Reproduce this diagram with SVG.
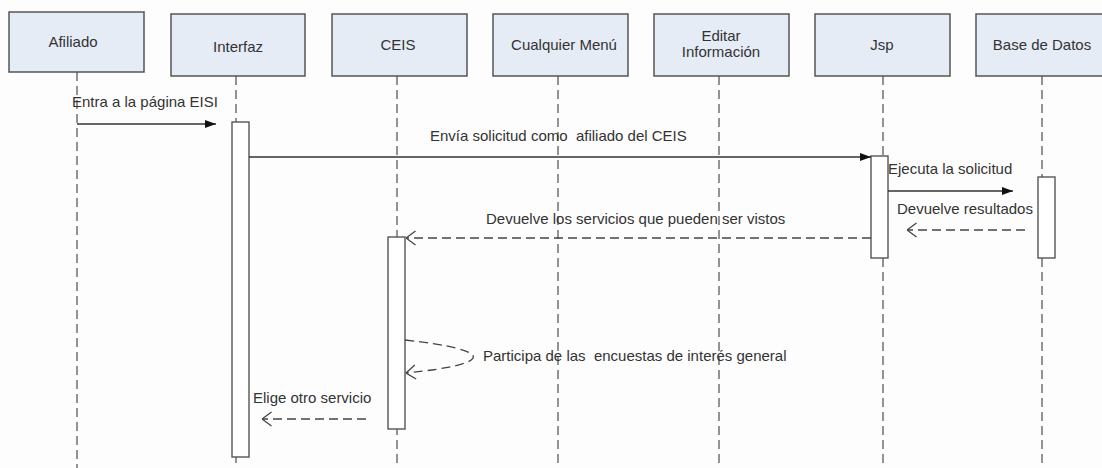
<svg xmlns="http://www.w3.org/2000/svg" width="1102" height="468" viewBox="0 0 1102 468">
<style>
text{font-family:"Liberation Sans",Arial,sans-serif;font-size:15px;fill:#333;white-space:pre}
.box{fill:#e6ecf6;stroke:#555;stroke-width:1.5}
.life{stroke:#707070;stroke-width:1.5;stroke-dasharray:9 5;fill:none}
.bar{fill:#fff;stroke:#555;stroke-width:1.4}
.msg{stroke:#333;stroke-width:1.3;fill:none}
.ret{stroke:#444;stroke-width:1.3;fill:none;stroke-dasharray:9 5}
.c{text-anchor:middle}
</style>
<defs>
<marker id="filled" viewBox="0 0 11 8" refX="11" refY="4" markerWidth="11" markerHeight="8" markerUnits="userSpaceOnUse" orient="auto">
<path d="M0,0 L11,4 L0,8 z" fill="#111"/>
</marker>
<marker id="open" viewBox="0 0 11 16" refX="10.5" refY="8" markerWidth="11" markerHeight="16" markerUnits="userSpaceOnUse" orient="auto">
<path d="M1,1 L10.5,8 L1,15" fill="none" stroke="#444" stroke-width="1.3"/>
</marker>
</defs>
<rect width="1102" height="468" fill="#fdfdfd"/>
<g id="lifelines">
<line class="life" x1="77" y1="72" x2="77" y2="468"/>
<line class="life" x1="236" y1="76" x2="236" y2="468"/>
<line class="life" x1="397" y1="76" x2="397" y2="468"/>
<line class="life" x1="558" y1="76" x2="558" y2="468"/>
<line class="life" x1="719" y1="76" x2="719" y2="468"/>
<line class="life" x1="883" y1="76" x2="883" y2="468"/>
<line class="life" x1="1042" y1="76" x2="1042" y2="468"/>
</g>
<g id="afiliado"><rect class="box" x="9" y="12" width="135" height="60"/><text class="c" x="73" y="47">Afiliado</text></g>
<g id="interfaz"><rect class="box" x="171" y="14" width="134" height="62"/><text class="c" x="238" y="52">Interfaz</text></g>
<g id="ceis"><rect class="box" x="332" y="14" width="135" height="62"/><text class="c" x="398" y="50">CEIS</text></g>
<g id="cualquier-menu"><rect class="box" x="493" y="14" width="135" height="62"/><text class="c" x="564" y="50">Cualquier Menú</text></g>
<g id="editar-informacion"><rect class="box" x="654" y="14" width="135" height="62"/><text class="c" x="721" y="41">Editar</text><text class="c" x="721" y="57">Información</text></g>
<g id="jsp"><rect class="box" x="815" y="14" width="135" height="62"/><text class="c" x="882" y="50">Jsp</text></g>
<g id="base-de-datos"><rect class="box" x="976" y="14" width="135" height="62"/><text class="c" x="1042" y="50">Base de Datos</text></g>
<g id="activations">
<rect class="bar" x="232" y="122" width="17" height="335"/>
<rect class="bar" x="388" y="237" width="17" height="192"/>
<rect class="bar" x="871" y="156" width="17" height="102"/>
<rect class="bar" x="1038" y="177" width="17" height="81"/>
</g>
<g id="connectors">
<line class="msg" x1="77" y1="124" x2="216" y2="124" marker-end="url(#filled)"/>
<line class="msg" x1="249" y1="157" x2="871" y2="157" marker-end="url(#filled)"/>
<line class="msg" x1="888" y1="191" x2="1013" y2="191" marker-end="url(#filled)"/>
<line class="ret" x1="1025" y1="230" x2="907" y2="230" marker-end="url(#open)"/>
<line class="ret" x1="871" y1="238" x2="406" y2="238" marker-end="url(#open)"/>
<path class="ret" d="M405,340 C496,350 496,364 406,373" marker-end="url(#open)"/>
<line class="ret" x1="366" y1="419" x2="262" y2="419" marker-end="url(#open)"/>
</g>
<g id="labels">
<text x="72" y="107">Entra a la página EISI</text>
<text x="430" y="141" xml:space="preserve">Envía solicitud como  afiliado del CEIS</text>
<text x="888" y="174">Ejecuta la solicitud</text>
<text x="897" y="214">Devuelve resultados</text>
<text x="486" y="224">Devuelve los servicios que pueden ser vistos</text>
<text x="483" y="361" xml:space="preserve">Participa de las  encuestas de interés general</text>
<text x="253" y="403">Elige otro servicio</text>
</g>
</svg>
